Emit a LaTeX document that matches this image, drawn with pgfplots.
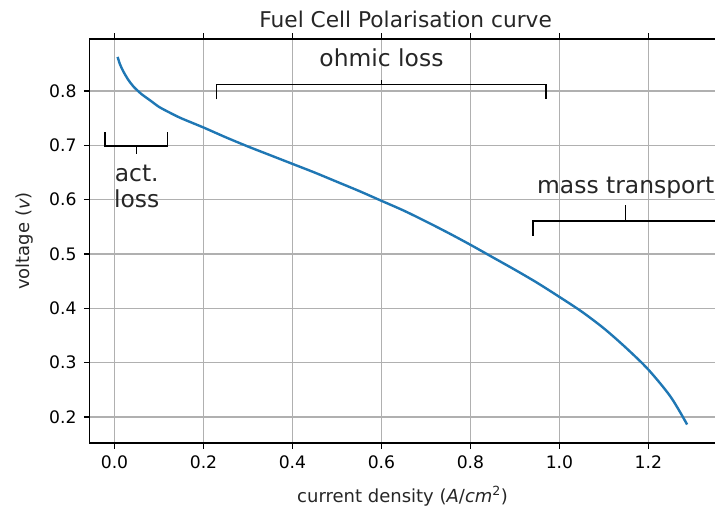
\documentclass[border=0pt]{standalone}
\usepackage{fontspec}
\setmainfont{DejaVu Sans}
\usepackage{pgfplots}
\pgfplotsset{compat=1.18}
\definecolor{mplblue}{RGB}{31,119,180}
\definecolor{mplgrid}{RGB}{176,176,176}
\newcommand{\tickfont}{\fontsize{17.2bp}{20bp}\selectfont}
\newcommand{\labfont}{\fontsize{18bp}{21bp}\selectfont}
\newcommand{\titfont}{\fontsize{21.7bp}{25bp}\selectfont}
\newcommand{\annfont}{\fontsize{23.4bp}{28bp}\selectfont}
\begin{document}
\begin{tikzpicture}
\begin{axis}[
  at={(0,0)}, anchor=south west,
  scale only axis, width=626bp, height=404bp,
  xmin=-0.056, xmax=1.351, ymin=0.152, ymax=0.896,
  xtick={0,0.2,0.4,0.6,0.8,1.0,1.2},
  ytick={0.2,0.3,0.4,0.5,0.6,0.7,0.8},
  /pgf/number format/.cd, fixed, fixed zerofill, precision=1, assume math mode=true,
  /pgfplots/.cd,
  grid=major, major grid style={mplgrid, line width=1.33bp},
  tick align=outside, major tick length=5.8bp,
  every tick/.style={black, line width=1.33bp},
  axis line style={draw=none},
  ticklabel style={font=\tickfont, inner sep=0pt},
  xticklabel style={anchor=north, yshift=-7bp},
  yticklabel style={anchor=east, xshift=-7bp},
  clip=false,
]
\addplot[mplblue, line width=2.4bp, smooth, tension=0.5] table {
x y
0.007 0.863
0.012 0.850
0.020 0.836
0.030 0.822
0.042 0.809
0.060 0.795
0.080 0.783
0.100 0.771
0.125 0.760
0.150 0.750
0.200 0.733
0.250 0.715
0.300 0.698
0.350 0.682
0.400 0.666
0.450 0.650
0.500 0.633
0.550 0.616
0.600 0.598
0.650 0.580
0.700 0.560
0.750 0.539
0.800 0.517
0.850 0.494
0.900 0.471
0.950 0.447
1.000 0.421
1.050 0.394
1.100 0.363
1.150 0.327
1.200 0.287
1.250 0.237
1.287 0.186
};
% brackets
\draw[black, line width=1.4bp] (axis cs:-0.021,0.724) -- (axis cs:-0.021,0.699) -- (axis cs:0.119,0.699) -- (axis cs:0.119,0.724);
\draw[black, line width=1.4bp] (axis cs:0.049,0.699) -- (axis cs:0.049,0.685);
\draw[black, line width=1.4bp] (axis cs:0.229,0.785) -- (axis cs:0.229,0.8123) -- (axis cs:0.970,0.8123) -- (axis cs:0.970,0.785);
\draw[black, line width=1.4bp] (axis cs:0.6,0.8123) -- (axis cs:0.6,0.8203);
\draw[black, line width=1.4bp] (axis cs:0.941,0.534) -- (axis cs:0.941,0.561) -- (axis cs:1.357,0.561) -- (axis cs:1.357,0.534);
\draw[black, line width=1.4bp] (axis cs:1.149,0.561) -- (axis cs:1.149,0.590);
\node[anchor=base, font=\annfont, text=black!85, inner sep=0pt] at (axis cs:0.6,0.846) {ohmic loss};
\node[anchor=base, font=\annfont, text=black!85, inner sep=0pt] at (axis cs:1.149,0.612) {mass transport};
\node[anchor=base, font=\annfont, text=black!85, inner sep=0pt] at (axis cs:0.05,0.633) {act.};
\node[anchor=base, font=\annfont, text=black!85, inner sep=0pt] at (axis cs:0.05,0.585) {loss};
\end{axis}
% frame (right spine falls at the page edge)
\draw[black, line width=1.33bp] (626bp,0) -- (0,0) -- (0,404bp) -- (626bp,404bp);
\node[anchor=base, font=\titfont, text=black!85, inner sep=0pt] at (316bp,415.6bp) {Fuel Cell Polarisation curve};
\node[anchor=base, font=\labfont, text=black!85, inner sep=0pt] at (313bp,-59bp) {current density (\textit{A}/\textit{cm}\textsuperscript{2})};
\node[anchor=base, rotate=90, font=\labfont, text=black!85, inner sep=0pt] at (-60bp,202bp) {voltage (\textit{v})};
\pgfresetboundingbox
\path[use as bounding box] (-89.6bp,-68bp) rectangle (625.4bp,443bp);
\end{tikzpicture}
\end{document}
